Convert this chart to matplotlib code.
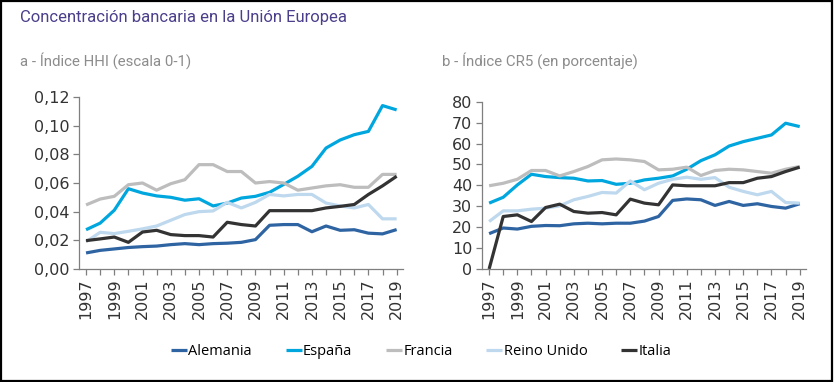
import matplotlib
matplotlib.use("Agg")
import matplotlib.pyplot as plt
from matplotlib.patches import Rectangle

#########################################
#DATA
#########################################
years = list(range(1997, 2020))
countries = ["Alemania", "España", "Francia", "Reino Unido", "Italia"]
colors = ["#2F64A3", "#00A6DE", "#BDBDBD", "#BED8EE", "#333333"]

# a - HHI index (0-1 scale)
hhi_alemania = [0.0112, 0.013, 0.014, 0.015, 0.0156, 0.016, 0.017, 0.0177, 0.017, 0.0177, 0.018, 0.0186,
                0.0205, 0.0305, 0.031, 0.031, 0.026, 0.030, 0.027, 0.0274, 0.025, 0.0245, 0.0275]
hhi_espana = [0.0274, 0.032, 0.041, 0.056, 0.053, 0.051, 0.050, 0.048, 0.049, 0.044, 0.046, 0.0495,
              0.0507, 0.0535, 0.059, 0.0647, 0.0716, 0.0844, 0.090, 0.0937, 0.096, 0.114, 0.111]
hhi_francia = [0.0447, 0.0488, 0.0507, 0.0588, 0.060, 0.055, 0.0595, 0.0623, 0.0728, 0.0728, 0.068, 0.068,
               0.060, 0.061, 0.060, 0.055, 0.0565, 0.058, 0.0588, 0.057, 0.057, 0.066, 0.066]
hhi_reino = [0.019, 0.0256, 0.0247, 0.0263, 0.028, 0.030, 0.034, 0.038, 0.040, 0.0405, 0.0465, 0.0426,
             0.0465, 0.052, 0.051, 0.052, 0.052, 0.046, 0.044, 0.0426, 0.045, 0.035, 0.035]
hhi_italia = [0.0198, 0.021, 0.0223, 0.0186, 0.0258, 0.027, 0.024, 0.0233, 0.0233, 0.0223, 0.0326, 0.031,
              0.030, 0.0407, 0.0407, 0.0407, 0.0407, 0.0426, 0.0437, 0.045, 0.052, 0.058, 0.0647]

# b - CR5 index (percent)
cr5_alemania = [16.9, 19.6, 19.1, 20.4, 20.8, 20.7, 21.6, 21.9, 21.6, 21.9, 21.9, 22.9,
                25.1, 32.8, 33.5, 33.1, 30.4, 32.3, 30.4, 31.2, 29.9, 29.1, 31.2]
cr5_espana = [31.5, 34.3, 40.2, 45.3, 44.2, 43.7, 43.4, 42.1, 42.3, 40.5, 41.0, 42.6,
              43.4, 44.5, 47.7, 51.8, 54.6, 58.8, 60.9, 62.5, 64.1, 69.7, 68.1]
cr5_francia = [39.8, 41.0, 42.9, 47.1, 47.1, 44.5, 46.6, 49.0, 52.2, 52.6, 52.2, 51.4,
               47.4, 47.7, 48.7, 44.7, 47.1, 47.7, 47.4, 46.6, 45.8, 47.7, 49.0]
cr5_reino = [22.7, 27.8, 27.8, 28.6, 29.1, 30.2, 33.1, 34.7, 36.6, 36.3, 42.1, 37.9,
             41.0, 42.9, 43.9, 42.9, 43.7, 39.1, 37.1, 35.5, 37.1, 31.8, 31.5]
cr5_italia = [0.0, 25.1, 25.9, 22.7, 29.4, 31.0, 27.5, 26.7, 27.0, 25.9, 33.4, 31.5,
              30.7, 40.2, 39.8, 39.8, 39.8, 41.3, 41.3, 43.4, 44.2, 46.6, 48.7]

hhi = [hhi_alemania, hhi_espana, hhi_francia, hhi_reino, hhi_italia]
cr5 = [cr5_alemania, cr5_espana, cr5_francia, cr5_reino, cr5_italia]

hhi_ticks = [0.00, 0.02, 0.04, 0.06, 0.08, 0.10, 0.12]
cr5_ticks = [0, 10, 20, 30, 40, 50, 60, 70, 80]

#########################################
#FIGURE
#########################################
fig = plt.figure(figsize=(8.34, 3.82), dpi=100)
fig.patches.append(Rectangle((0.001, 0.002), 0.997, 0.995, transform=fig.transFigure,
                             fill=False, edgecolor="black", linewidth=1.6))

fig.text(0.024, 0.953, "Concentración bancaria en la Unión Europea", color="#4B3F8C",
         fontsize=12, family="Roboto", va="center", ha="left")
fig.text(0.024, 0.842, "a - Índice HHI (escala 0-1)", color="#8C8C8C",
         fontsize=10.8, family="Roboto", va="center", ha="left")
fig.text(0.530, 0.842, "b - Índice CR5 (en porcentaje)", color="#8C8C8C",
         fontsize=10.8, family="Roboto", va="center", ha="left")

ax1 = fig.add_axes([0.0947, 0.2958, 0.3885, 0.4503])
ax2 = fig.add_axes([0.578, 0.2958, 0.3885, 0.438])


def style(ax, yticks, fmt):
    ax.set_xlim(1996.5, 2019.45)
    ax.set_ylim(yticks[0], yticks[-1])
    for s in ["top", "right"]:
        ax.spines[s].set_visible(False)
    for s in ["left", "bottom"]:
        ax.spines[s].set_color("#7F7F7F")
        ax.spines[s].set_linewidth(0.9)
    ax.set_xticks(years)
    ax.set_xticklabels([str(y) if y % 2 == 1 else "" for y in years], rotation=90)
    ax.set_yticks(yticks)
    ax.set_yticklabels([fmt(v) for v in yticks])
    ax.tick_params(axis="both", colors="#7F7F7F", labelcolor="#333333", labelsize=11.5,
                   length=4, width=0.9, direction="out", pad=3)
    ax.patch.set_visible(False)


style(ax1, hhi_ticks, lambda v: ("%.2f" % v).replace(".", ","))
style(ax2, cr5_ticks, lambda v: "%d" % v)

for vals, c, name in zip(hhi, colors, countries):
    ax1.plot(years, vals, color=c, lw=2.3, label=name, solid_capstyle="butt")
for vals, c in zip(cr5, colors):
    ax2.plot(years, vals, color=c, lw=2.3, solid_capstyle="butt")

handles, labels = ax1.get_legend_handles_labels()
fig.legend(handles, labels, loc="center", bbox_to_anchor=(0.505, 0.079), ncol=5,
           frameon=False, handlelength=1.1, handletextpad=0.1,
           columnspacing=2.3, prop={"family": "Open Sans", "size": 10.5})

fig.savefig("out.png", dpi=100)
